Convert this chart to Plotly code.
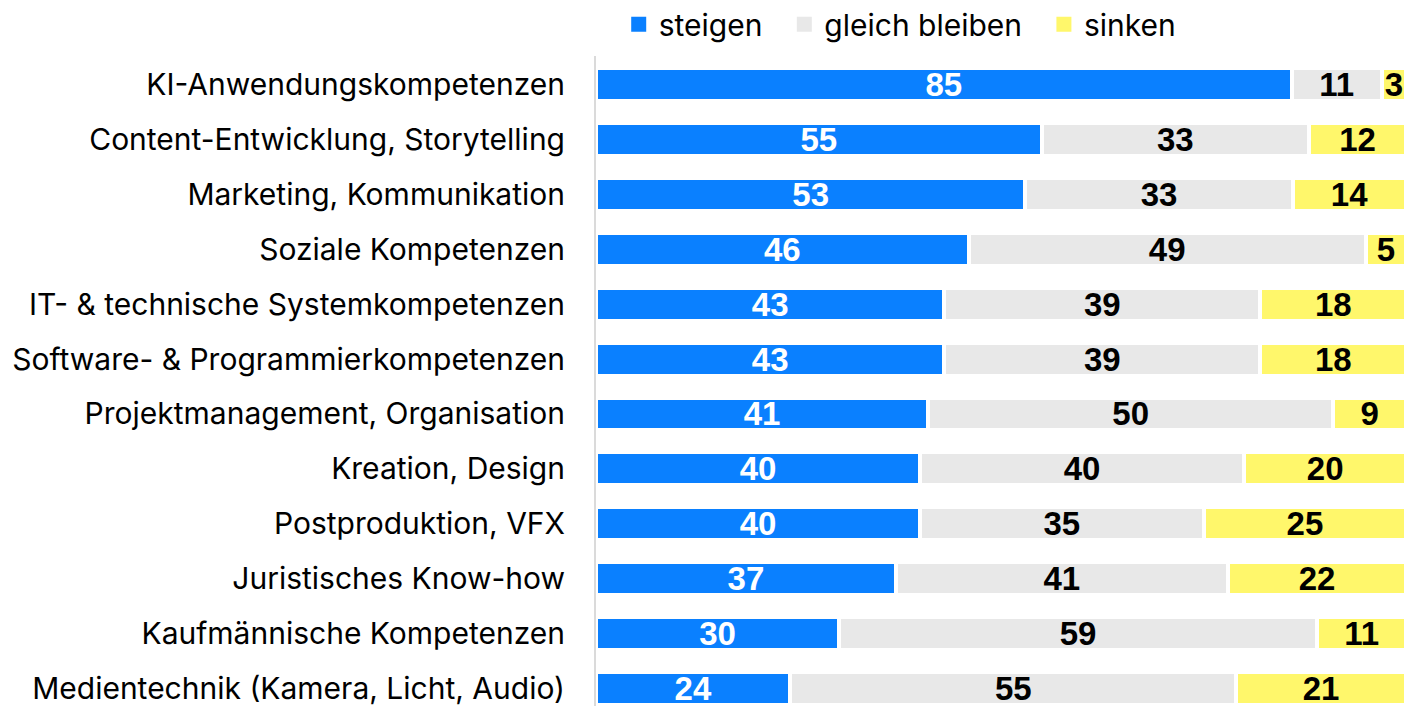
import plotly.graph_objects as go

categories = [
    "KI-Anwendungskompetenzen",
    "Content-Entwicklung, Storytelling",
    "Marketing, Kommunikation",
    "Soziale Kompetenzen",
    "IT- & technische Systemkompetenzen",
    "Software- & Programmierkompetenzen",
    "Projektmanagement, Organisation",
    "Kreation, Design",
    "Postproduktion, VFX",
    "Juristisches Know-how",
    "Kaufmännische Kompetenzen",
    "Medientechnik (Kamera, Licht, Audio)",
]
steigen = [85, 55, 53, 46, 43, 43, 41, 40, 40, 37, 30, 24]
gleich = [11, 33, 33, 49, 39, 39, 50, 40, 35, 41, 59, 55]
sinken = [3, 12, 14, 5, 18, 18, 9, 20, 25, 22, 11, 21]

series_names = ["steigen", "gleich bleiben", "sinken"]
legend_labels = ["steigen\u00a0\u00a0", "gleich bleiben\u00a0\u00a0", "sinken"]
series_values = [steigen, gleich, sinken]
colors = ["#0A80FF", "#E8E8E8", "#FFF76B"]
text_colors = ["white", "black", "black"]

LABEL_FONT = "Inter, 'Liberation Sans', Arial, sans-serif"
NUM_FONT = "'Liberation Sans', Arial, sans-serif"

fig = go.Figure()
for name, vals, col, tcol in zip(series_names, series_values, colors, text_colors):
    fig.add_trace(go.Bar(
        y=categories, x=vals, orientation="h", name=name,
        marker=dict(color=col, line=dict(color="white", width=4)),
        text=[str(v) for v in vals], texttemplate="%{text}",
        textposition="inside", insidetextanchor="middle", textangle=0,
        constraintext="none",
        textfont=dict(family=NUM_FONT, size=33, color=tcol, weight="bold"),
        showlegend=False, hoverinfo="skip",
    ))

# legend entries
for label, col in zip(legend_labels, colors):
    fig.add_trace(go.Scatter(
        x=[None], y=[None], mode="markers", name=label,
        marker=dict(symbol="square", size=15, color=col),
        showlegend=True, hoverinfo="skip",
    ))

fig.update_layout(
    width=1407, height=706,
    barmode="stack", barnorm="percent", bargap=0.4,
    plot_bgcolor="white", paper_bgcolor="white",
    margin=dict(l=596, r=0, t=56, b=0, autoexpand=False),
    font=dict(family=LABEL_FONT, size=30, color="black"),
    legend=dict(
        orientation="h", x=0.028, xanchor="left", y=1.049, yanchor="middle",
        traceorder="normal",
        font=dict(family=LABEL_FONT, size=30, color="black"),
        bgcolor="rgba(0,0,0,0)",
    ),
    xaxis=dict(range=[0, 100.1], visible=False, fixedrange=True),
    yaxis=dict(
        type="category", categoryorder="array", categoryarray=categories,
        range=[11.31, -0.51], showgrid=False, zeroline=False,
        showline=True, linecolor="#DADADA", linewidth=2,
        ticks="", ticklabelstandoff=23, fixedrange=True,
        tickfont=dict(family=LABEL_FONT, size=30, color="black"),
    ),
)

fig.write_html(
    "out.html",
    config={"displayModeBar": False, "staticPlot": True},
    post_script="document.body.style.margin='0';document.body.style.overflow='hidden';",
)
